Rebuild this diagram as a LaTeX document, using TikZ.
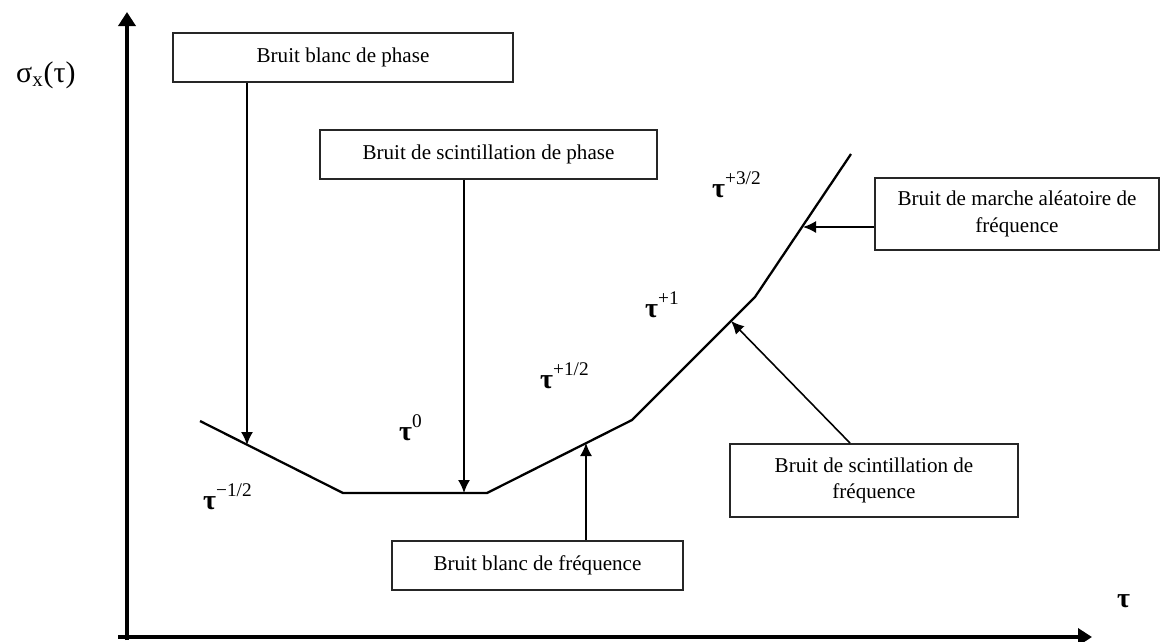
\documentclass[tikz,border=0pt]{standalone}
\usepackage{fontspec}
\setmainfont{Liberation Serif}
\usetikzlibrary{arrows.meta}
\newcommand{\taupow}[1]{\textbf{τ}\raisebox{7pt}{\fontsize{11}{11}\selectfont #1}}
\tikzset{
  boite/.style={draw=black!85, line width=1.1pt, inner sep=0pt, align=center, font=\fontsize{12}{15}\selectfont},
  fleche/.style={line width=0.9pt, -{Latex[length=2.6mm,width=2.4mm]}},
  axe/.style={line width=2pt, -{Triangle[length=2.8mm,width=3.4mm]}},
  puiss/.style={anchor=base west, font=\fontsize{16}{16}\selectfont},
}
\begin{document}
\begin{tikzpicture}[x=0.2mm,y=-0.2mm]
        \useasboundingbox (0,0) rectangle (1162,641);
        % axes
        \coordinate (xmin) at (118,637);
        \coordinate (xmax) at (1092,637);
        \coordinate (ymin) at (127,640);
        \coordinate (ymax) at (127,12);
        \draw[axe] (xmin) -- (xmax);
        \draw[axe] (ymin) -- (ymax);
        \node[anchor=base west, font=\fontsize{17}{17}\selectfont] (sig) at (10,82) {σ\textsubscript{x}(τ)};
        \node[anchor=base west, font=\fontsize{16}{16}\selectfont] (tau) at (1111,607) {\textbf{τ}};
        % courbe
        \coordinate (A) at (200,421);
        \coordinate (B) at (343,493);
        \coordinate (C) at (487,493);
        \coordinate (D) at (632,420);
        \coordinate (E) at (755,297);
        \coordinate (F) at (851,154);
        \draw[line width=1.3pt] (A) -- (B) -- (C) -- (D) -- (E) -- (F);
        \node[puiss] (pm) at (197,509) {\taupow{−1/2}};
        \node[puiss] (p0) at (393,440) {\taupow{0}};
        \node[puiss] (pd) at (534,388) {\taupow{+1/2}};
        \node[puiss] (pu) at (639,317) {\taupow{+1}};
        \node[puiss] (pt) at (706,197) {\taupow{+3/2}};
        % boites
        \node[boite, minimum width=68mm, minimum height=9.8mm] (b1) at (343,57.5) {Bruit blanc de phase};
        \node[boite, minimum width=67.4mm, minimum height=9.8mm] (b2) at (488.5,154.5) {Bruit de scintillation de phase};
        \node[boite, minimum width=56.8mm, minimum height=14.4mm] (b3) at (1017,214) {Bruit de marche aléatoire de\\fréquence};
        \node[boite, minimum width=57.6mm, minimum height=14.6mm] (b4) at (874,480.5) {Bruit de scintillation de\\fréquence};
        \node[boite, minimum width=58.2mm, minimum height=9.8mm] (b5) at (537.5,565.5) {Bruit blanc de fréquence};
        % fleches
        \coordinate (h1) at (247,445);
        \coordinate (h2) at (464,493);
        \coordinate (h3) at (803,227);
        \coordinate (h4) at (731,321);
        \coordinate (h5) at (586,443);
        \draw[fleche] (b1.south -| h1) -- (h1);
        \draw[fleche] (b2.south -| h2) -- (h2);
        \draw[fleche] (b3.west |- h3) -- (h3);
        \draw[fleche] ([xshift=-4.8mm]b4.north) -- (h4);
        \draw[fleche] (b5.north -| h5) -- (h5);
\end{tikzpicture}
\end{document}
